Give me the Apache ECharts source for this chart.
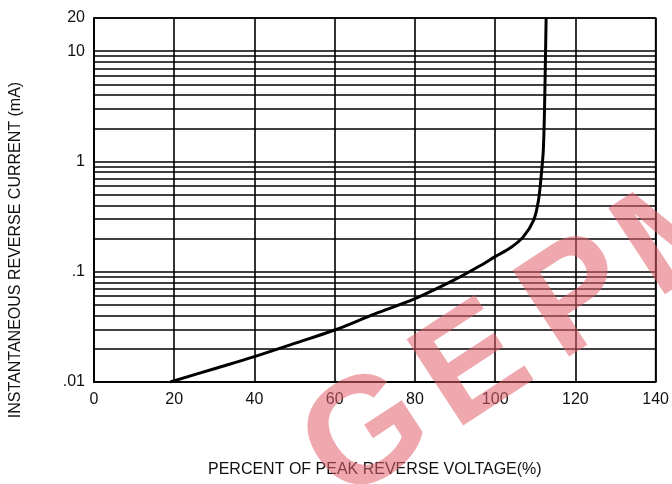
<!DOCTYPE html>
<html><head><meta charset="utf-8">
<script src="https://cdn.jsdelivr.net/npm/echarts@6/dist/echarts.min.js"></script>
<style>html,body{margin:0;padding:0;background:#fff}#c{width:672px;height:484px}</style>
</head><body><div id="c"></div>
<script>
// Data
const voltagePct = [19, 30, 40, 50, 60, 70, 80, 90, 96, 100, 104, 107, 109.6, 110.8, 111.6, 112.0, 112.3, 112.7];
const currentMA  = [0.01, 0.0132, 0.017, 0.0224, 0.0296, 0.0415, 0.057, 0.085, 0.112, 0.137, 0.167, 0.207, 0.294, 0.447, 0.836, 1.27, 3.0, 20];
const xMin = 0, xMax = 140, xStep = 20;
const yMin = 0.01, yMax = 20;
const yMinorGrid = [0.02,0.03,0.04,0.05,0.06,0.07,0.08,0.09,
                    0.2,0.3,0.4,0.5,0.6,0.7,0.8,0.9,
                    2,3,4,5,6,7,8,9];
const xTitle = 'PERCENT OF PEAK REVERSE VOLTAGE(%)';
const yTitle = 'INSTANTANEOUS REVERSE CURRENT (mA)';
const watermark = 'GEPM';

const FONT = '"Liberation Sans", Arial, sans-serif';
const chart = echarts.init(document.getElementById('c'), null, {renderer: 'canvas'});
const wmStart = [368, 438], wmStep = [106, -69];
chart.setOption({
  animation: false,
  backgroundColor: '#fff',
  grid: {left: 92, right: 14, top: 18, bottom: 102, show: true, borderColor: '#000', borderWidth: 1.6, backgroundColor: 'transparent'},
  xAxis: {
    type: 'value', min: xMin, max: xMax, interval: xStep,
    name: xTitle, nameLocation: 'middle', nameGap: 80,
    nameTextStyle: {fontFamily: FONT, fontSize: 16, color: '#111'},
    axisLine: {show: true, lineStyle: {color: '#000', width: 1.6}},
    axisTick: {show: false},
    axisLabel: {fontFamily: FONT, fontSize: 16, color: '#111', margin: 10},
    splitLine: {show: true, lineStyle: {color: '#000', width: 1.6}}
  },
  yAxis: {
    type: 'log', logBase: 10, min: yMin, max: yMax,
    name: yTitle, nameLocation: 'middle', nameGap: 70,
    nameTextStyle: {fontFamily: FONT, fontSize: 16, color: '#111', padding: [0, 100, 0, 0]},
    axisLine: {show: true, lineStyle: {color: '#000', width: 1.6}},
    axisTick: {show: false},
    axisLabel: {fontFamily: FONT, fontSize: 16, color: '#111', margin: 9,
      formatter: v => { const n = Number(Number(v).toPrecision(4)); return n < 1 ? String(n).replace(/^0/, '') : String(n); }},
    splitLine: {show: true, lineStyle: {color: '#000', width: 1.6}}
  },
  series: [{
    type: 'line',
    data: voltagePct.map((x, i) => [x, currentMA[i]]),
    showSymbol: false,
    smooth: 0.35,
    lineStyle: {color: '#000', width: 3},
    z: 5,
    markLine: {
      silent: true, symbol: 'none', label: {show: false},
      lineStyle: {color: '#000', width: 1.6, type: 'solid'},
      data: yMinorGrid.map(v => ({yAxis: v}))
    }
  }],
  graphic: watermark.split('').map((ch, i) => ({
    type: 'text', x: wmStart[0] + i * wmStep[0], y: wmStart[1] + i * wmStep[1],
    rotation: 0.58, z: 100, silent: true,
    style: {text: ch, fontFamily: FONT, fontWeight: 'bold', fontSize: 150,
      fill: '#e0606c', opacity: 0.55, align: 'center', verticalAlign: 'middle'}
  }))
});
</script></body></html>
